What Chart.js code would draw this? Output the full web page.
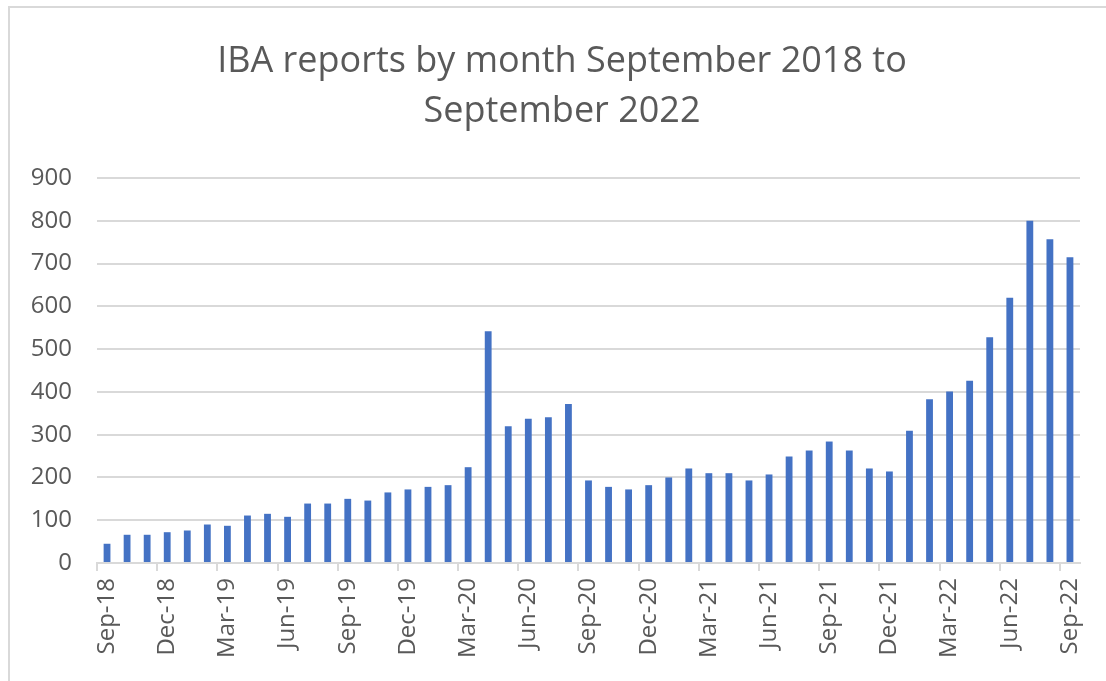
<!DOCTYPE html>
<html lang="en">
<head>
    <meta charset="UTF-8">
    <title>IBA reports</title>
    <script src="https://cdn.jsdelivr.net/npm/chart.js@4.4.0/dist/chart.umd.min.js"></script>
    <style>
        html, body{
            margin: 0;
            padding: 0;
            background: #ffffff;
            overflow: hidden;
        }
        .frame{
            position: absolute;
            left: 8px;
            top: 6px;
            width: 1300px;
            height: 900px;
            border: 2px solid #d9d9d9;
        }
        .wrap{
            position: absolute;
            left: 0;
            top: 0;
            width: 1106px;
            height: 681px;
        }
    </style>
</head>
<body>
    <div class="frame"></div>
    <div class="wrap">
        <canvas id="ibaChart" width="1106" height="681"></canvas>
    </div>
    <script>
        const months = [
            'Sep-18','Oct-18','Nov-18','Dec-18','Jan-19','Feb-19','Mar-19','Apr-19','May-19','Jun-19','Jul-19','Aug-19',
            'Sep-19','Oct-19','Nov-19','Dec-19','Jan-20','Feb-20','Mar-20','Apr-20','May-20','Jun-20','Jul-20','Aug-20',
            'Sep-20','Oct-20','Nov-20','Dec-20','Jan-21','Feb-21','Mar-21','Apr-21','May-21','Jun-21','Jul-21','Aug-21',
            'Sep-21','Oct-21','Nov-21','Dec-21','Jan-22','Feb-22','Mar-22','Apr-22','May-22','Jun-22','Jul-22','Aug-22',
            'Sep-22'
        ];
        const reports = [
            45, 66, 66, 72, 76, 90, 87, 111, 115, 108, 139, 139,
            150, 146, 165, 172, 178, 182, 224, 542, 320, 337, 341, 372,
            193, 178, 172, 182, 200, 221, 210, 210, 193, 207, 249, 263,
            284, 263, 221, 214, 309, 383, 401, 426, 528, 620, 800, 757,
            715
        ];
        const yTicks = [0, 100, 200, 300, 400, 500, 600, 700, 800, 900];
        const titleLines = ['IBA reports by month September 2018 to', 'September 2022'];

        const greyText = '#595959';
        const gridGrey = '#d9d9d9';
        const fontName = '"Open Sans", Lato, sans-serif';

        // nudge the title box so its centre sits where the original's does
        const titleShift = {
            id: 'titleShift',
            afterLayout(chart) {
                if (chart.titleBlock) chart.titleBlock.left = 42;
            }
        };

        new Chart(document.getElementById('ibaChart'), {
            type: 'bar',
            data: {
                labels: months,
                datasets: [{
                    label: 'IBA reports',
                    data: reports,
                    backgroundColor: '#4472c4',
                    borderWidth: 0,
                    barPercentage: 0.68,
                    categoryPercentage: 0.5
                }]
            },
            options: {
                responsive: false,
                animation: false,
                layout: { padding: { left: 0, right: 24, top: 0, bottom: 0 } },
                plugins: {
                    legend: { display: false },
                    tooltip: { enabled: false },
                    title: {
                        display: true,
                        text: titleLines,
                        color: greyText,
                        font: { family: fontName, size: 36, weight: 'normal', lineHeight: 1.39 },
                        padding: { top: 37, bottom: 41 }
                    }
                },
                scales: {
                    x: {
                        offset: true,
                        border: { color: gridGrey, width: 2 },
                        grid: {
                            offset: true,
                            drawOnChartArea: false,
                            tickLength: 8,
                            lineWidth: 2,
                            color: (ctx) => (ctx.index % 3 === 0 && ctx.index < months.length) ? gridGrey : 'rgba(0,0,0,0)'
                        },
                        ticks: {
                            autoSkip: false,
                            minRotation: 90,
                            maxRotation: 90,
                            padding: 7,
                            color: greyText,
                            font: { family: fontName, size: 24 },
                            callback: function (value, index) {
                                return index % 3 === 0 ? months[index] : '';
                            }
                        },
                        afterFit: (scale) => { scale.height = 118; }
                    },
                    y: {
                        min: 0,
                        max: 900,
                        afterBuildTicks: (scale) => { scale.ticks = yTicks.map(v => ({ value: v })); },
                        border: { display: false },
                        grid: { color: gridGrey, lineWidth: 2, drawTicks: false },
                        ticks: {
                            padding: 25,
                            color: greyText,
                            font: { family: fontName, size: 24 }
                        },
                        afterFit: (scale) => { scale.width = 97; }
                    }
                }
            },
            plugins: [titleShift]
        });
    </script>
</body>
</html>
